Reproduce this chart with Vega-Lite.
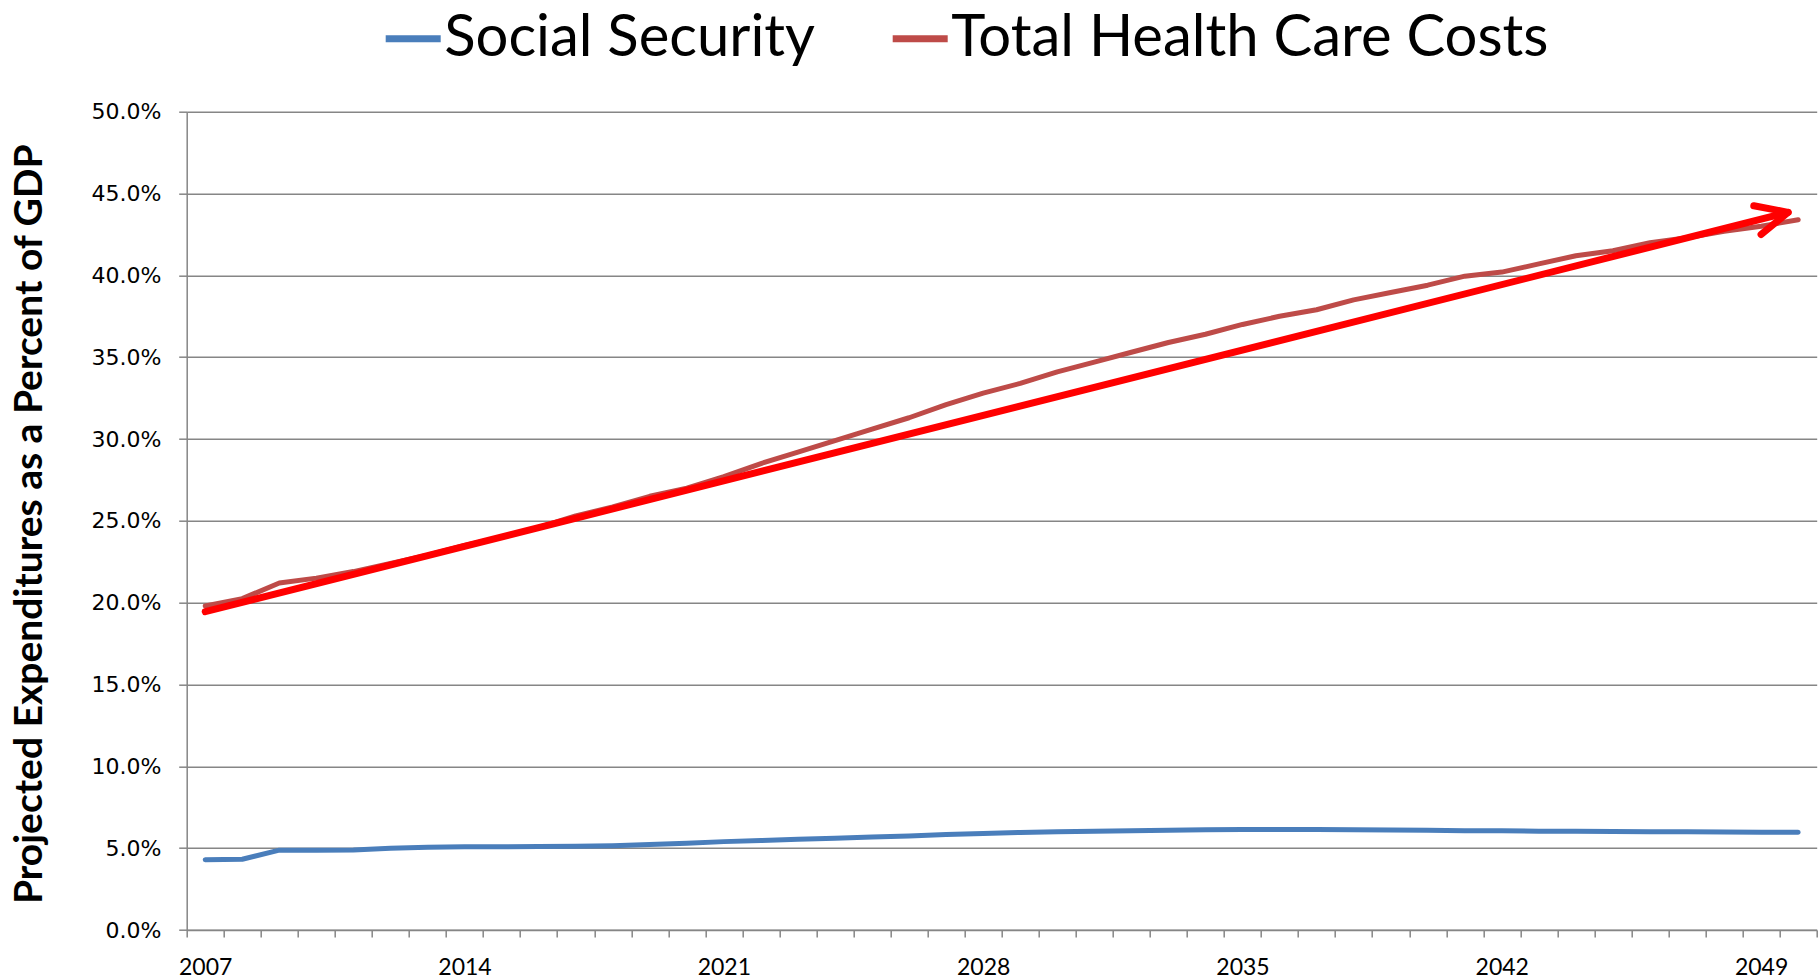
{
  "$schema": "https://vega.github.io/schema/vega-lite/v6.json",
  "autosize": {"type": "none"},
  "padding": {"left": 186.7, "top": 111.7, "right": 2.3, "bottom": 50},
  "width": 1630,
  "height": 818.3,
  "background": "white",
  "config": {"view": {"stroke": null}},
  "datasets": {
    "series": [
      {"year": 2007, "series": "Social Security", "value": 0.0430},
      {"year": 2008, "series": "Social Security", "value": 0.0432},
      {"year": 2009, "series": "Social Security", "value": 0.0488},
      {"year": 2010, "series": "Social Security", "value": 0.0488},
      {"year": 2011, "series": "Social Security", "value": 0.0489},
      {"year": 2012, "series": "Social Security", "value": 0.0500},
      {"year": 2013, "series": "Social Security", "value": 0.0506},
      {"year": 2014, "series": "Social Security", "value": 0.0508},
      {"year": 2015, "series": "Social Security", "value": 0.0509},
      {"year": 2016, "series": "Social Security", "value": 0.0510},
      {"year": 2017, "series": "Social Security", "value": 0.0512},
      {"year": 2018, "series": "Social Security", "value": 0.0515},
      {"year": 2019, "series": "Social Security", "value": 0.0522},
      {"year": 2020, "series": "Social Security", "value": 0.0530},
      {"year": 2021, "series": "Social Security", "value": 0.0540},
      {"year": 2022, "series": "Social Security", "value": 0.0547},
      {"year": 2023, "series": "Social Security", "value": 0.0554},
      {"year": 2024, "series": "Social Security", "value": 0.0561},
      {"year": 2025, "series": "Social Security", "value": 0.0568},
      {"year": 2026, "series": "Social Security", "value": 0.0575},
      {"year": 2027, "series": "Social Security", "value": 0.0583},
      {"year": 2028, "series": "Social Security", "value": 0.0590},
      {"year": 2029, "series": "Social Security", "value": 0.0596},
      {"year": 2030, "series": "Social Security", "value": 0.0600},
      {"year": 2031, "series": "Social Security", "value": 0.0604},
      {"year": 2032, "series": "Social Security", "value": 0.0607},
      {"year": 2033, "series": "Social Security", "value": 0.0610},
      {"year": 2034, "series": "Social Security", "value": 0.0612},
      {"year": 2035, "series": "Social Security", "value": 0.0614},
      {"year": 2036, "series": "Social Security", "value": 0.0614},
      {"year": 2037, "series": "Social Security", "value": 0.0614},
      {"year": 2038, "series": "Social Security", "value": 0.0613},
      {"year": 2039, "series": "Social Security", "value": 0.0611},
      {"year": 2040, "series": "Social Security", "value": 0.0609},
      {"year": 2041, "series": "Social Security", "value": 0.0607},
      {"year": 2042, "series": "Social Security", "value": 0.0606},
      {"year": 2043, "series": "Social Security", "value": 0.0604},
      {"year": 2044, "series": "Social Security", "value": 0.0603},
      {"year": 2045, "series": "Social Security", "value": 0.0602},
      {"year": 2046, "series": "Social Security", "value": 0.0601},
      {"year": 2047, "series": "Social Security", "value": 0.0600},
      {"year": 2048, "series": "Social Security", "value": 0.0599},
      {"year": 2049, "series": "Social Security", "value": 0.0598},
      {"year": 2050, "series": "Social Security", "value": 0.0597},
      {"year": 2007, "series": "Total Health Care Costs", "value": 0.198},
      {"year": 2008, "series": "Total Health Care Costs", "value": 0.2025},
      {"year": 2009, "series": "Total Health Care Costs", "value": 0.212},
      {"year": 2010, "series": "Total Health Care Costs", "value": 0.215},
      {"year": 2011, "series": "Total Health Care Costs", "value": 0.219},
      {"year": 2012, "series": "Total Health Care Costs", "value": 0.224},
      {"year": 2013, "series": "Total Health Care Costs", "value": 0.229},
      {"year": 2014, "series": "Total Health Care Costs", "value": 0.235},
      {"year": 2015, "series": "Total Health Care Costs", "value": 0.240},
      {"year": 2016, "series": "Total Health Care Costs", "value": 0.246},
      {"year": 2017, "series": "Total Health Care Costs", "value": 0.253},
      {"year": 2018, "series": "Total Health Care Costs", "value": 0.2585},
      {"year": 2019, "series": "Total Health Care Costs", "value": 0.265},
      {"year": 2020, "series": "Total Health Care Costs", "value": 0.270},
      {"year": 2021, "series": "Total Health Care Costs", "value": 0.277},
      {"year": 2022, "series": "Total Health Care Costs", "value": 0.285},
      {"year": 2023, "series": "Total Health Care Costs", "value": 0.292},
      {"year": 2024, "series": "Total Health Care Costs", "value": 0.299},
      {"year": 2025, "series": "Total Health Care Costs", "value": 0.306},
      {"year": 2026, "series": "Total Health Care Costs", "value": 0.313},
      {"year": 2027, "series": "Total Health Care Costs", "value": 0.321},
      {"year": 2028, "series": "Total Health Care Costs", "value": 0.328},
      {"year": 2029, "series": "Total Health Care Costs", "value": 0.334},
      {"year": 2030, "series": "Total Health Care Costs", "value": 0.341},
      {"year": 2031, "series": "Total Health Care Costs", "value": 0.347},
      {"year": 2032, "series": "Total Health Care Costs", "value": 0.353},
      {"year": 2033, "series": "Total Health Care Costs", "value": 0.359},
      {"year": 2034, "series": "Total Health Care Costs", "value": 0.364},
      {"year": 2035, "series": "Total Health Care Costs", "value": 0.370},
      {"year": 2036, "series": "Total Health Care Costs", "value": 0.375},
      {"year": 2037, "series": "Total Health Care Costs", "value": 0.379},
      {"year": 2038, "series": "Total Health Care Costs", "value": 0.385},
      {"year": 2039, "series": "Total Health Care Costs", "value": 0.3895},
      {"year": 2040, "series": "Total Health Care Costs", "value": 0.394},
      {"year": 2041, "series": "Total Health Care Costs", "value": 0.3995},
      {"year": 2042, "series": "Total Health Care Costs", "value": 0.402},
      {"year": 2043, "series": "Total Health Care Costs", "value": 0.407},
      {"year": 2044, "series": "Total Health Care Costs", "value": 0.412},
      {"year": 2045, "series": "Total Health Care Costs", "value": 0.415},
      {"year": 2046, "series": "Total Health Care Costs", "value": 0.420},
      {"year": 2047, "series": "Total Health Care Costs", "value": 0.423},
      {"year": 2048, "series": "Total Health Care Costs", "value": 0.427},
      {"year": 2049, "series": "Total Health Care Costs", "value": 0.430},
      {"year": 2050, "series": "Total Health Care Costs", "value": 0.434}
    ],
    "arrow": [
      {"year": 2007, "value": 0.1945, "part": "tail"},
      {"year": 2049.73, "value": 0.4385, "part": "tip"}
    ]
  },
  "layer": [
    {
      "data": {"name": "series"},
      "mark": {"type": "line", "strokeWidth": 5, "strokeCap": "round", "strokeJoin": "round"},
      "encoding": {
        "x": {
          "field": "year", "type": "quantitative",
          "scale": {"domain": [2006.5, 2050.5], "nice": false, "zero": false},
          "axis": {
            "title": null,
            "grid": false,
            "tickCount": 200,
            "values": [2006.5, 2007.5, 2008.5, 2009.5, 2010.5, 2011.5, 2012.5, 2013.5, 2014.5, 2015.5, 2016.5, 2017.5, 2018.5, 2019.5, 2020.5, 2021.5, 2022.5, 2023.5, 2024.5, 2025.5, 2026.5, 2027.5, 2028.5, 2029.5, 2030.5, 2031.5, 2032.5, 2033.5, 2034.5, 2035.5, 2036.5, 2037.5, 2038.5, 2039.5, 2040.5, 2041.5, 2042.5, 2043.5, 2044.5, 2045.5, 2046.5, 2047.5, 2048.5, 2049.5, 2050.5],
            "labelExpr": "((datum.value + 0.5 - 2007) % 7 == 0 && datum.value < 2050) ? '' + (datum.value + 0.5) : ''",
            "labelOffset": 18.5,
            "labelFlush": false,
            "labelOverlap": false,
            "labelFont": "Lato",
            "labelFontSize": 23,
            "labelColor": "#000000",
            "labelPadding": 19,
            "labelAlign": "center",
            "labelBaseline": "top",
            "domainColor": "#868686",
            "domainWidth": 1.5,
            "tickColor": "#868686",
            "tickWidth": 1.5,
            "tickSize": 7
          }
        },
        "y": {
          "field": "value", "type": "quantitative",
          "scale": {"domain": [0, 0.5], "nice": false, "zero": true},
          "axis": {
            "title": "Projected Expenditures as a Percent of GDP",
            "titleFont": "Lato",
            "titleFontSize": 39,
            "titleFontWeight": "bold",
            "titleColor": "#000000",
            "titleAngle": -90,
            "titleAlign": "center",
            "titleBaseline": "alphabetic",
            "titleX": -145,
            "titleY": 412,
            "tickCount": 20,
            "values": [0, 0.05, 0.1, 0.15, 0.2, 0.25, 0.3, 0.35, 0.4, 0.45, 0.5],
            "format": ".1%",
            "labelFont": "DejaVu Sans",
            "labelFontSize": 22,
            "labelColor": "#000000",
            "labelPadding": 17.7,
            "labelOverlap": false,
            "grid": true,
            "gridColor": "#868686",
            "gridWidth": 1.5,
            "domainColor": "#868686",
            "domainWidth": 1.5,
            "tickColor": "#868686",
            "tickWidth": 1.5,
            "tickSize": 8
          }
        },
        "color": {
          "field": "series", "type": "nominal",
          "scale": {"domain": ["Social Security", "Total Health Care Costs"], "range": ["#4A7EBB", "#BE4B48"]},
          "legend": {
            "title": null,
            "orient": "none",
            "direction": "horizontal",
            "legendX": 195.5,
            "legendY": -104,
            "symbolType": "stroke",
            "symbolSize": 3025,
            "symbolStrokeWidth": 7,
            "labelFont": "Lato",
            "labelFontSize": 58,
            "labelColor": "#000000",
            "labelLimit": 1000,
            "labelOffset": 0,
            "columnPadding": 63,
            "padding": 0
          }
        }
      }
    },
    {
      "data": {"name": "arrow"},
      "mark": {"type": "line", "color": "#FF0000", "strokeWidth": 7, "strokeCap": "round"},
      "encoding": {
        "x": {"field": "year", "type": "quantitative"},
        "y": {"field": "value", "type": "quantitative"}
      }
    },
    {
      "data": {"name": "arrow"},
      "transform": [{"filter": "datum.part == 'tip'"}],
      "mark": {"type": "point", "shape": "M -0.982 -0.188 L 0 0 L -0.775 0.631", "size": 4900, "filled": false, "stroke": "#FF0000", "strokeWidth": 7, "strokeCap": "round", "strokeJoin": "round", "opacity": 1},
      "encoding": {
        "x": {"field": "year", "type": "quantitative"},
        "y": {"field": "value", "type": "quantitative"}
      }
    }
  ]
}
